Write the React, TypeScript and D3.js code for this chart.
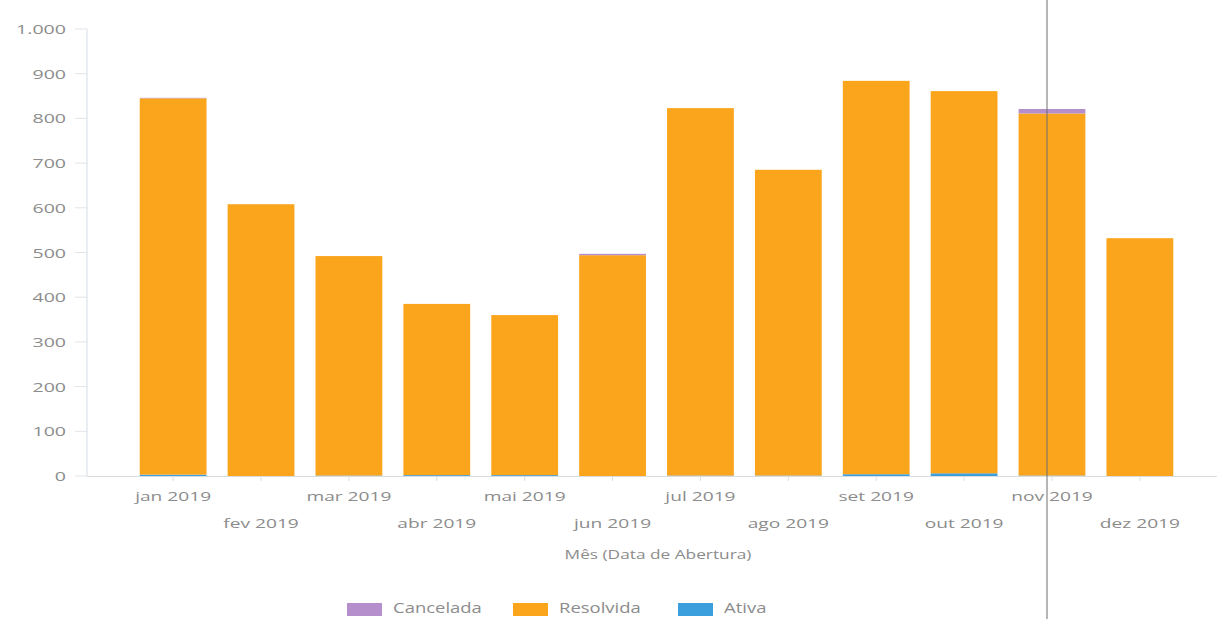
import React from "react";
import * as d3 from "d3";

const months = ["jan 2019","fev 2019","mar 2019","abr 2019","mai 2019","jun 2019","jul 2019","ago 2019","set 2019","out 2019","nov 2019","dez 2019"];
const ativa = [3, 0, 1, 2, 2, 0, 1, 1, 4, 6, 1, 0];
const resolvida = [842, 608, 491, 383, 358, 494, 822, 684, 880, 855, 810, 532];
const cancelada = [1, 0, 0, 0, 0, 3, 0, 0, 0, 0, 10, 0];
const yTicks = [0,100,200,300,400,500,600,700,800,900,1000];
const seriesNames = ["Cancelada","Resolvida","Ativa"];
const colors: Record<string,string> = { Cancelada: "#b48fcb", Resolvida: "#fba51c", Ativa: "#3b9fdd" };

function T({ x, y, sx, anchor, size, fill, children }: any) {
  return (
    <text transform={`translate(${x},${y}) scale(${sx},1)`} textAnchor={anchor} fontSize={size} fill={fill}>{children}</text>
  );
}

export default function App() {
  const W = 1217, H = 619;
  const x0 = 87, y0 = 476, yTop = 29;
  const x = d3.scaleBand<string>().domain(months).range([x0, 1226]).paddingInner(0.24).paddingOuter(0.6);
  const y = d3.scaleLinear().domain([0, 1000]).range([y0, yTop]);
  const data = months.map((m, i) => ({ m, Ativa: ativa[i], Resolvida: resolvida[i], Cancelada: cancelada[i] }));
  const stack = d3.stack<any>().keys(["Ativa","Resolvida","Cancelada"])(data);
  const fmt = (v: number) => v === 1000 ? "1.000" : String(v);
  const font = "'Open Sans', sans-serif";
  const grey = "#8c8c8c";
  const legendX = [347, 513, 678];
  return (
    <svg width={W} height={H} style={{ position: "absolute", left: 0, top: 0, background: "#fff" }} fontFamily={font}>
      <rect width={W} height={H} fill="#fff" />
      {/* y axis */}
      <line x1={x0} x2={x0} y1={yTop} y2={y0} stroke="#d6dde6" />
      {yTicks.map(t => (
        <g key={t}>
          <line x1={x0 - 12} x2={x0} y1={y(t)} y2={y(t)} stroke="#dfe3e8" />
          <T x={66} y={y(t) + 5} sx={1.45} anchor="end" size={13.5} fill={grey}>{fmt(t)}</T>
        </g>
      ))}
      {/* bars */}
      {stack.map(s => (
        <g key={s.key} fill={colors[s.key]}>
          {s.map((d, i) => (
            <rect key={i} x={x(months[i])} width={x.bandwidth()} y={y(d[1])} height={Math.max(0, y(d[0]) - y(d[1]))} />
          ))}
        </g>
      ))}
      {/* x axis */}
      <line x1={x0} x2={W} y1={y0 + 0.5} y2={y0 + 0.5} stroke="#d9dde2" />
      {months.map((m, i) => (
        <g key={m}>
          <line x1={x(m)! + x.bandwidth() / 2} x2={x(m)! + x.bandwidth() / 2} y1={y0} y2={y0 + 5} stroke="#d9dde2" />
          <T x={x(m)! + x.bandwidth() / 2} y={i % 2 === 0 ? 501 : 528} sx={1.42} anchor="middle" size={13.5} fill={grey}>{m}</T>
        </g>
      ))}
      <T x={658} y={559} sx={1.44} anchor="middle" size={12} fill={grey}>Mês (Data de Abertura)</T>
      {/* legend */}
      {seriesNames.map((n, i) => {
        const lx = legendX[i];
        return (
          <g key={n}>
            <rect x={lx} y={603} width={35} height={13} fill={colors[n]} />
            <T x={lx + 46} y={613} sx={1.32} anchor="start" size={14} fill={grey}>{n}</T>
          </g>
        );
      })}
      {/* vertical cursor line */}
      <line x1={1047} x2={1047} y1={0} y2={H} stroke="#6f6f6f" strokeWidth={1} />
    </svg>
  );
}
